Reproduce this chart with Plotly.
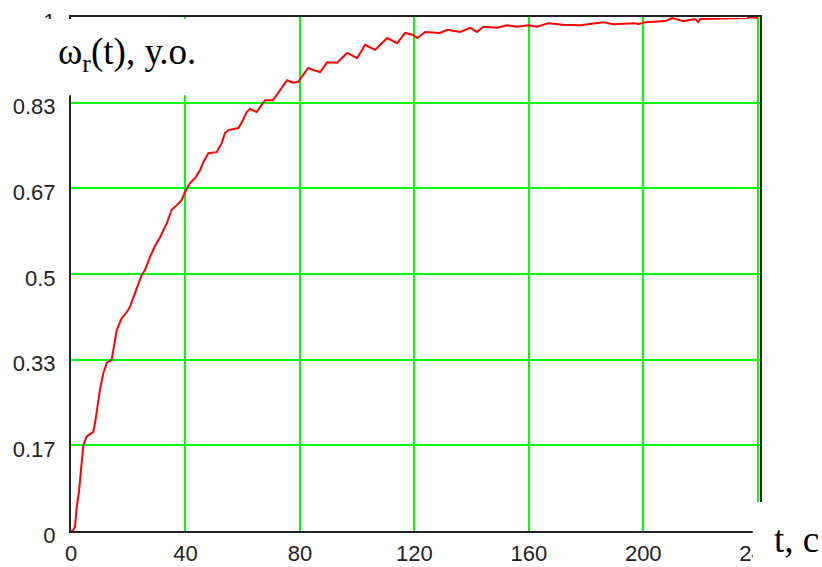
import plotly.graph_objects as go

# time, s
t = [0, 0.6, 1.4, 2.0, 2.8, 3.7, 4.3, 5.5, 7.8, 8.4, 9.0, 10.1, 11.3, 12.5, 14.2, 15.4, 16.0,
     17.7, 19.5, 20.6, 21.8, 23.0, 24.7, 25.9, 27.6, 29.4, 31.1, 33.5, 35.2, 37.0, 38.7, 39.9,
     41.6, 43.4, 45.1, 46.3, 48.0, 50.9, 52.7, 53.8, 55.0, 58.5, 59.7, 61.4, 62.6, 64.9, 66.1,
     67.8, 70.6, 75.5, 77.6, 79.4, 82.9, 84.6, 87.1, 89.5, 93.0, 96.5, 100.0, 102.8, 106.3,
     110.5, 114.0, 116.8, 119.6, 121.0, 123.8, 129.0, 131.5, 136.0, 139.5, 141.9, 144.1, 149.0,
     152.4, 155.9, 159.8, 162.9, 166.8, 172, 178, 186, 189.5, 197.2, 198.3, 200.7, 207.7, 210.1,
     214, 218.2, 219.2, 219.9, 236.4, 237.4, 240]

# rotor speed, p.u.
w = [0, 0, 0.008, 0.047, 0.077, 0.13, 0.167, 0.184, 0.193, 0.21, 0.232, 0.274, 0.307, 0.327,
     0.333, 0.372, 0.391, 0.414, 0.426, 0.436, 0.455, 0.475, 0.498, 0.508, 0.533, 0.555, 0.571,
     0.599, 0.625, 0.634, 0.644, 0.660, 0.677, 0.687, 0.702, 0.718, 0.735, 0.737, 0.755, 0.774,
     0.780, 0.784, 0.795, 0.815, 0.821, 0.815, 0.825, 0.838, 0.838, 0.877, 0.872, 0.874, 0.901,
     0.897, 0.893, 0.912, 0.911, 0.930, 0.920, 0.946, 0.936, 0.959, 0.949, 0.969, 0.965, 0.959,
     0.971, 0.969, 0.975, 0.971, 0.979, 0.971, 0.981, 0.979, 0.984, 0.981, 0.984, 0.981, 0.988,
     0.985, 0.984, 0.990, 0.986, 0.988, 0.986, 0.990, 0.992, 0.998, 0.992, 0.996, 0.990, 0.996,
     0.998, 1.0, 0.998]

x_ticks = [0, 40, 80, 120, 160, 200, 240]
x_labels = ["0", "40", "80", "120", "160", "200", "240"]
y_ticks = [0, 1/6, 2/6, 3/6, 4/6, 5/6, 1]
y_labels = ["0", "0.17", "0.33", "0.5", "0.67", "0.83", "1"]

assert len(t) == len(w)

fig = go.Figure()
fig.add_trace(go.Scatter(x=t, y=w, mode="lines",
                         line=dict(color="#ff0000", width=2), showlegend=False))

tickfont = dict(family="Liberation Sans", size=22, color="#222222")
fig.update_layout(
    width=822, height=567,
    margin=dict(l=71, r=62, t=17, b=36, autoexpand=False),
    paper_bgcolor="white", plot_bgcolor="white",
    xaxis=dict(range=[0, 240.8], tickvals=x_ticks, ticktext=x_labels, automargin=False,
               showgrid=True, gridcolor="#00ff00", gridwidth=2,
               zeroline=False, showline=True, linecolor="#222222", linewidth=2,
               mirror=True, ticks="", tickfont=tickfont, ticklabelstandoff=2),
    yaxis=dict(range=[0, 1], tickvals=y_ticks, ticktext=y_labels, automargin=False,
               showgrid=True, gridcolor="#00ff00", gridwidth=2,
               zeroline=False, showline=True, linecolor="#222222", linewidth=2,
               mirror=True, ticks="", tickfont=tickfont, ticklabelstandoff=9,
               ticklabelshift=4),
)

# white boxes behind the axis titles (they hide parts of the frame)
fig.add_shape(type="rect", xref="paper", yref="paper", x0=-0.103, x1=0.209, y0=0.848, y1=0.996,
              fillcolor="white", line=dict(width=0), layer="above")
fig.add_shape(type="rect", xref="paper", yref="paper", x0=0.9895, x1=1.1, y0=-0.08, y1=0.0564,
              fillcolor="white", line=dict(width=0), layer="above")

fig.add_annotation(text="ω<sub>r</sub>(t), у.о.", xref="paper", yref="paper",
                   x=-0.0218, y=0.928, xanchor="left", yanchor="middle", showarrow=False,
                   font=dict(family="Liberation Serif", size=37, color="black"))
fig.add_annotation(text="t, с", xref="paper", yref="paper",
                   x=1.0174, y=-0.0175, xanchor="left", yanchor="middle", showarrow=False,
                   font=dict(family="Liberation Serif", size=37, color="black"))

fig.write_html("out.html", config={"displayModeBar": False},
               post_script="document.body.style.margin='0';document.body.style.overflow='hidden';")
